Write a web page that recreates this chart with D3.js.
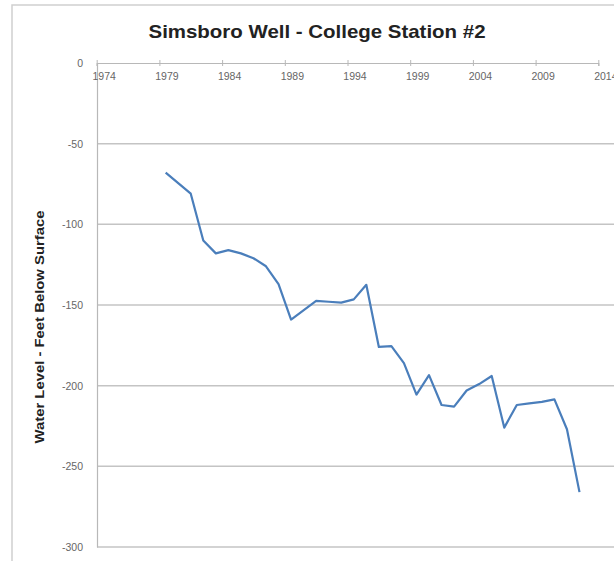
<!DOCTYPE html>
<html>
<head>
<meta charset="utf-8">
<script src="https://cdn.jsdelivr.net/npm/d3@7"></script>
<style>
  body { margin: 0; background: #fff; }
  text { font-family: "Liberation Sans", Arial, sans-serif; }
</style>
</head>
<body>
<svg width="614" height="561"></svg>
<script>
// **** data ****
var years = [1979, 1981, 1982, 1983, 1984, 1985, 1986, 1987, 1988, 1989,
             1991, 1992, 1993, 1994, 1995, 1996, 1997, 1998, 1999, 2000,
             2001, 2002, 2003, 2004, 2005, 2006, 2007, 2008, 2009, 2010,
             2011, 2012]
var levels = [-68, -81, -110, -118, -116, -118, -121, -126, -137, -159,
              -147.5, -148, -148.5, -146.5, -137.5, -176, -175.5, -186, -205.5, -193.5,
              -212, -213, -203, -199, -194, -226, -212, -211, -210, -208.5,
              -227, -266]
var xTicks = [1974, 1979, 1984, 1989, 1994, 1999, 2004, 2009, 2014]
var yTicks = [0, -50, -100, -150, -200, -250, -300]

var svg = d3.select('svg')

// **** scales ****
var xScale = d3.scaleLinear().domain([1974, 2014]).range([96.7, 598.3])
var yScale = d3.scaleLinear().domain([0, -300]).range([63, 547])

// chart border
svg.append('path')
    .attr('d', 'M12,561 V5 H614')
    .attr('fill', 'none')
    .attr('stroke', '#d0d0d0')
    .attr('stroke-width', 1.5)

// gridlines
svg.append('g').selectAll('line')
    .data(yTicks.slice(1))
    .enter().append('line')
    .attr('x1', 97).attr('x2', 614)
    .attr('y1', function(d) { return yScale(d) })
    .attr('y2', function(d) { return yScale(d) })
    .attr('stroke', '#c4c4c4')
    .attr('stroke-width', 1.5)

// y axis
var yAxis = svg.append('g')
    .attr('transform', 'translate(97,0)')
    .call(d3.axisLeft(yScale).tickValues(yTicks).tickSize(0).tickPadding(14)
        .tickFormat(function(d) { return d }))
yAxis.select('.domain').attr('stroke', '#b8b8b8').attr('stroke-width', 1.2)
yAxis.selectAll('text').attr('fill', '#666').style('font-size', '10.5px')

// x axis at zero
var xAxis = svg.append('g')
    .attr('transform', 'translate(0,' + yScale(0) + ')')
    .call(d3.axisBottom(xScale).tickValues(xTicks).tickSize(3).tickFormat(function(d) { return d }))
xAxis.select('.domain').attr('stroke', '#b8b8b8').attr('stroke-width', 1.2)
xAxis.selectAll('line').attr('stroke', '#b8b8b8').attr('y1', -3)
xAxis.selectAll('text')
    .attr('fill', '#666')
    .attr('x', 7)
    .attr('y', 10)
    .style('font-size', '10.5px')

// the series
var pts = years.map(function(y, i) { return [y + 0.5, levels[i]] })
var line = d3.line()
    .x(function(d) { return xScale(d[0]) })
    .y(function(d) { return yScale(d[1]) })

svg.append('path')
    .datum(pts)
    .attr('d', line)
    .attr('fill', 'none')
    .attr('stroke', '#4a7ebb')
    .attr('stroke-width', 2.2)
    .attr('stroke-linejoin', 'round')

// **** labels ****
svg.append('text')
    .attr('x', 317).attr('y', 38)
    .attr('text-anchor', 'middle')
    .style('font-size', '19px')
    .style('font-weight', 'bold')
    .attr('fill', '#222')
    .attr('textLength', 337)
    .attr('lengthAdjust', 'spacingAndGlyphs')
    .text('Simsboro Well - College Station #2')

svg.append('text')
    .attr('transform', 'translate(44,327) rotate(-90)')
    .attr('text-anchor', 'middle')
    .style('font-size', '12px')
    .style('font-weight', 'bold')
    .attr('fill', '#222')
    .attr('textLength', 233)
    .attr('lengthAdjust', 'spacingAndGlyphs')
    .text('Water Level - Feet Below Surface')
</script>
</body>
</html>
